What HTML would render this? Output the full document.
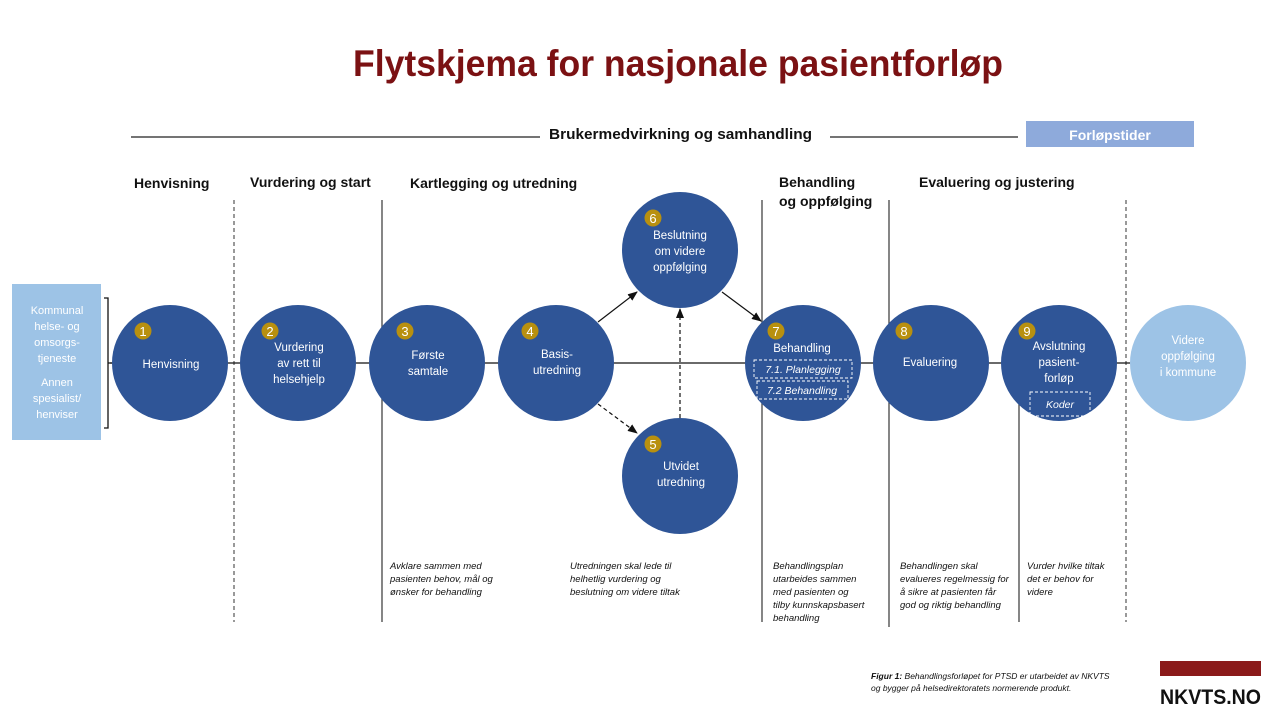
<!DOCTYPE html>
<html><head><meta charset="utf-8"><style>
html,body{margin:0;padding:0;background:#fff}
svg{display:block}
text{font-family:"Liberation Sans",sans-serif}
.h{font-size:14px;font-weight:bold;fill:#111}
.w{font-size:11.5px;fill:#fff}
.it{font-size:9.5px;font-style:italic;fill:#111}
.bn{font-size:13px;fill:#fff}
</style></head><body>
<svg width="1280" height="720" viewBox="0 0 1280 720" xmlns="http://www.w3.org/2000/svg">
<defs>
<marker id="ar" markerWidth="10" markerHeight="10" refX="9" refY="5" orient="auto" markerUnits="userSpaceOnUse"><path d="M0,1 L10,5 L0,9 z" fill="#111"/></marker>
</defs>
<text x="353" y="76" textLength="650" lengthAdjust="spacingAndGlyphs" style="font-size:37px;font-weight:bold;fill:#7b1113">Flytskjema for nasjonale pasientforløp</text>
<line x1="131" y1="137" x2="540" y2="137" stroke="#222" stroke-width="1.3"/>
<line x1="830" y1="137" x2="1018" y2="137" stroke="#222" stroke-width="1.3"/>
<text x="549" y="139" textLength="263" lengthAdjust="spacingAndGlyphs" class="h" style="font-size:15px">Brukermedvirkning og samhandling</text>
<rect x="1026" y="121" width="168" height="26" fill="#8eaadb"/>
<text x="1110" y="140" text-anchor="middle" style="font-size:14px;font-weight:bold;fill:#fff">Forløpstider</text>
<text x="134" y="188" class="h">Henvisning</text>
<text x="250" y="187" class="h">Vurdering og start</text>
<text x="410" y="188" class="h">Kartlegging og utredning</text>
<text x="779" y="187" class="h">Behandling</text>
<text x="779" y="206" class="h">og oppfølging</text>
<text x="919" y="187" class="h">Evaluering og justering</text>
<line x1="234" y1="200" x2="234" y2="622" stroke="#333" stroke-dasharray="4,3"/>
<line x1="382" y1="200" x2="382" y2="622" stroke="#444" stroke-width="1.3"/>
<line x1="762" y1="200" x2="762" y2="622" stroke="#444" stroke-width="1.3"/>
<line x1="889" y1="200" x2="889" y2="627" stroke="#444" stroke-width="1.3"/>
<line x1="1019" y1="400" x2="1019" y2="622" stroke="#444" stroke-width="1.3"/>
<line x1="1126" y1="200" x2="1126" y2="622" stroke="#333" stroke-dasharray="4,3"/>
<line x1="110" y1="363" x2="1130" y2="363" stroke="#111" stroke-width="1.3"/>
<rect x="12" y="284" width="89" height="156" fill="#9dc3e6"/>
<g class="w" text-anchor="middle" style="font-size:11px">
<text x="57" y="314" fill="#fff">Kommunal</text>
<text x="57" y="330" fill="#fff">helse- og</text>
<text x="57" y="346" fill="#fff">omsorgs-</text>
<text x="57" y="362" fill="#fff">tjeneste</text>
<text x="57" y="386" fill="#fff">Annen</text>
<text x="57" y="402" fill="#fff">spesialist/</text>
<text x="57" y="418" fill="#fff">henviser</text>
</g>
<path d="M104,298 H108 V428 H104 M108,363 H112" fill="none" stroke="#111" stroke-width="1.3"/>
<line x1="598" y1="322" x2="637" y2="292" stroke="#111" stroke-width="1.2" marker-end="url(#ar)"/>
<line x1="722" y1="292" x2="761" y2="321" stroke="#111" stroke-width="1.2" marker-end="url(#ar)"/>
<line x1="598" y1="404" x2="637" y2="433" stroke="#111" stroke-width="1.2" stroke-dasharray="4,3" marker-end="url(#ar)"/>
<line x1="680" y1="418" x2="680" y2="309" stroke="#111" stroke-width="1.2" stroke-dasharray="4,3" marker-end="url(#ar)"/>
<g fill="#2f5597">
<circle cx="170" cy="363" r="58"/>
<circle cx="298" cy="363" r="58"/>
<circle cx="427" cy="363" r="58"/>
<circle cx="556" cy="363" r="58"/>
<circle cx="680" cy="250" r="58"/>
<circle cx="680" cy="476" r="58"/>
<circle cx="803" cy="363" r="58"/>
<circle cx="931" cy="363" r="58"/>
<circle cx="1059" cy="363" r="58"/>
</g>
<circle cx="1188" cy="363" r="58" fill="#9dc3e6"/>
<g fill="#b8900f">
<circle cx="143" cy="331" r="8.5"/><circle cx="270" cy="331" r="8.5"/><circle cx="405" cy="331" r="8.5"/>
<circle cx="530" cy="331" r="8.5"/><circle cx="653" cy="218" r="8.5"/><circle cx="653" cy="444" r="8.5"/>
<circle cx="776" cy="331" r="8.5"/><circle cx="904" cy="331" r="8.5"/><circle cx="1027" cy="331" r="8.5"/>
</g>
<g class="bn" text-anchor="middle">
<text x="143" y="336">1</text><text x="270" y="336">2</text><text x="405" y="336">3</text>
<text x="530" y="336">4</text><text x="653" y="223">6</text><text x="653" y="449">5</text>
<text x="776" y="336">7</text><text x="904" y="336">8</text><text x="1027" y="336">9</text>
</g>
<g class="w" text-anchor="middle">
<text x="171" y="368">Henvisning</text>
<text x="299" y="351">Vurdering</text><text x="299" y="367">av rett til</text><text x="299" y="383">helsehjelp</text>
<text x="428" y="359">Første</text><text x="428" y="375">samtale</text>
<text x="557" y="358">Basis-</text><text x="557" y="374">utredning</text>
<text x="680" y="239">Beslutning</text><text x="680" y="255">om videre</text><text x="680" y="271">oppfølging</text>
<text x="681" y="470">Utvidet</text><text x="681" y="486">utredning</text>
<text x="802" y="352">Behandling</text>
<text x="930" y="366">Evaluering</text>
<text x="1059" y="350">Avslutning</text><text x="1059" y="366">pasient-</text><text x="1059" y="382">forløp</text>
<text x="1188" y="344">Videre</text><text x="1188" y="360">oppfølging</text><text x="1188" y="376">i kommune</text>
</g>
<g fill="none" stroke="#fff" stroke-dasharray="3,2" stroke-width="0.9">
<rect x="754" y="360" width="98" height="18"/>
<rect x="757" y="381" width="91" height="18"/>
<rect x="1030" y="392" width="60" height="24"/>
</g>
<g class="w" text-anchor="middle" style="font-style:italic;font-size:10.5px">
<text x="803" y="373">7.1. Planlegging</text>
<text x="802" y="394">7.2 Behandling</text>
<text x="1060" y="408">Koder</text>
</g>
<g class="it">
<text x="390" y="569">Avklare sammen med</text><text x="390" y="582">pasienten behov, mål og</text><text x="390" y="595">ønsker for behandling</text>
<text x="570" y="569">Utredningen skal lede til</text><text x="570" y="582">helhetlig vurdering og</text><text x="570" y="595">beslutning om videre tiltak</text>
<text x="773" y="569">Behandlingsplan</text><text x="773" y="582">utarbeides sammen</text><text x="773" y="595">med pasienten og</text><text x="773" y="608">tilby kunnskapsbasert</text><text x="773" y="621">behandling</text>
<text x="900" y="569">Behandlingen skal</text><text x="900" y="582">evalueres regelmessig for</text><text x="900" y="595">å sikre at pasienten får</text><text x="900" y="608">god og riktig behandling</text>
<text x="1027" y="569">Vurder hvilke  tiltak</text><text x="1027" y="582">det er behov for</text><text x="1027" y="595">videre</text>
</g>
<text x="871" y="679" style="font-size:8.5px;font-style:italic;fill:#111"><tspan font-weight="bold">Figur 1:</tspan> Behandlingsforløpet for PTSD er utarbeidet av NKVTS</text>
<text x="871" y="691" style="font-size:8.5px;font-style:italic;fill:#111">og bygger på helsedirektoratets normerende produkt.</text>
<rect x="1160" y="661" width="101" height="15" fill="#8b1a1a"/>
<text x="1160" y="704" textLength="101" lengthAdjust="spacingAndGlyphs" style="font-size:21px;font-weight:bold;fill:#111">NKVTS.NO</text>
</svg>
</body></html>
